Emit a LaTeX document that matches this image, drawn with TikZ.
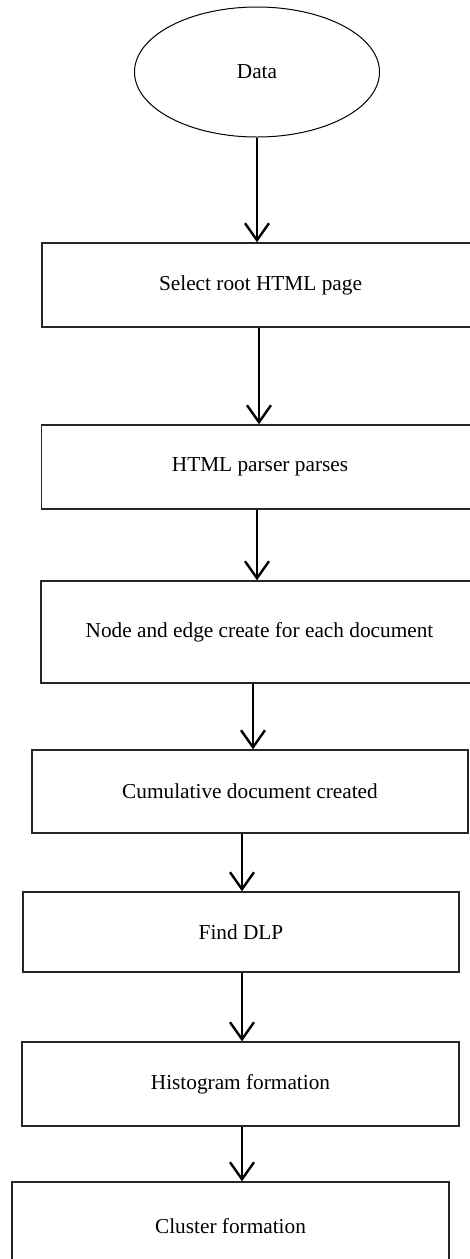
\documentclass[tikz,border=0pt]{standalone}
\usepackage{fontspec}
\setmainfont{Liberation Serif}
\usetikzlibrary{arrows.meta, shapes.geometric}
\tikzset{
    start node/.style={
        draw=black, line width=1pt, ellipse, inner sep=0pt,
        minimum width=245pt, minimum height=130pt
    },
    process box/.style={
        draw=black!85, line width=1.4pt, rectangle, inner sep=0pt,
        minimum width=437pt, minimum height=84pt
    },
    flow arrow/.style={
        draw=black, line width=2.4pt,
        -{Straight Barb[length=17pt, width=24pt, line width=2.4pt]}
    }
}

\begin{document}
\begin{tikzpicture}[x=1pt, y=-1pt, font=\fontsize{21.3}{25}\selectfont]

    \useasboundingbox (0,0) rectangle (469,1259);

    \node[start node] (data) at (257,72) {Data};

    \node[process box] (select) at (260.5,285) {Select root HTML page};
    \node[process box] (parser) at (260,467) {HTML parser parses};
    \node[process box, minimum height=102pt] (nodeedge) at (259.5,632)
        {Node and edge create for each document};
    \node[process box, minimum width=436pt, minimum height=83pt] (cumulative) at (250,791.5)
        {Cumulative document created};
    \node[process box, minimum width=436pt, minimum height=80pt] (dlp) at (241,932) {Find DLP};
    \node[process box] (histogram) at (240.5,1084) {Histogram formation};
    \node[process box, minimum height=88pt] (cluster) at (230.5,1226) {Cluster formation};

    % Pfeile zwischen den Schritten
    \draw[flow arrow] (data.south) -- ([xshift=-3.5pt]select.north);
    \draw[flow arrow] ([xshift=-1.5pt]select.south) -- ([xshift=-1pt]parser.north);
    \draw[flow arrow] ([xshift=-3pt]parser.south) -- ([xshift=-2.5pt]nodeedge.north);
    \draw[flow arrow] ([xshift=-6.5pt]nodeedge.south) -- ([xshift=3pt]cumulative.north);
    \draw[flow arrow] ([xshift=-8pt]cumulative.south) -- ([xshift=1pt]dlp.north);
    \draw[flow arrow] ([xshift=1pt]dlp.south) -- ([xshift=1.5pt]histogram.north);
    \draw[flow arrow] ([xshift=1.5pt]histogram.south) -- ([xshift=11.5pt]cluster.north);

\end{tikzpicture}
\end{document}
